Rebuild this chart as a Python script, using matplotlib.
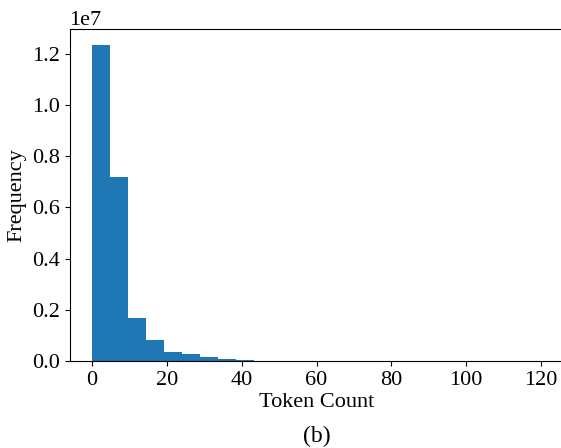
import numpy as np
import matplotlib
matplotlib.use('Agg')
import matplotlib.pyplot as plt

# histogram of token counts: 25 equal bins over [0, 120]
bin_edges = np.linspace(0, 120, 26)
bin_counts = [12350000, 7200000, 1690000, 820000, 350000, 270000, 160000,
              80000, 40000, 15000, 8000, 5000, 3000, 2000, 1500, 1000,
              800, 600, 400, 300, 200, 150, 100, 80, 50]

plt.rcParams['font.family'] = ['Liberation Serif', 'DejaVu Serif']
plt.rcParams['font.size'] = 16

fig = plt.figure(figsize=(5.61, 4.48), dpi=100)
# the source figure was cropped: the right spine falls just outside the image
ax = fig.add_axes([69.5 / 561, 1 - 361 / 448, 494 / 561, 332 / 448])

ax.hist(bin_edges[:-1], bins=bin_edges, weights=bin_counts, color='#1f77b4')

ax.set_xticks([0, 20, 40, 60, 80, 100, 120])
ax.set_yticks([0, 0.2e7, 0.4e7, 0.6e7, 0.8e7, 1.0e7, 1.2e7])
ax.set_xlabel('Token Count', labelpad=2)
ax.set_ylabel('Frequency', labelpad=4)
ax.tick_params(labelsize=16)
ax.yaxis.get_offset_text().set_fontsize(16)
ax.spines['right'].set_visible(False)

fig.text(316.5 / 561, 1 - 442 / 448, '(b)', ha='center', va='baseline', fontsize=17)

fig.savefig('out.png', dpi=100)
